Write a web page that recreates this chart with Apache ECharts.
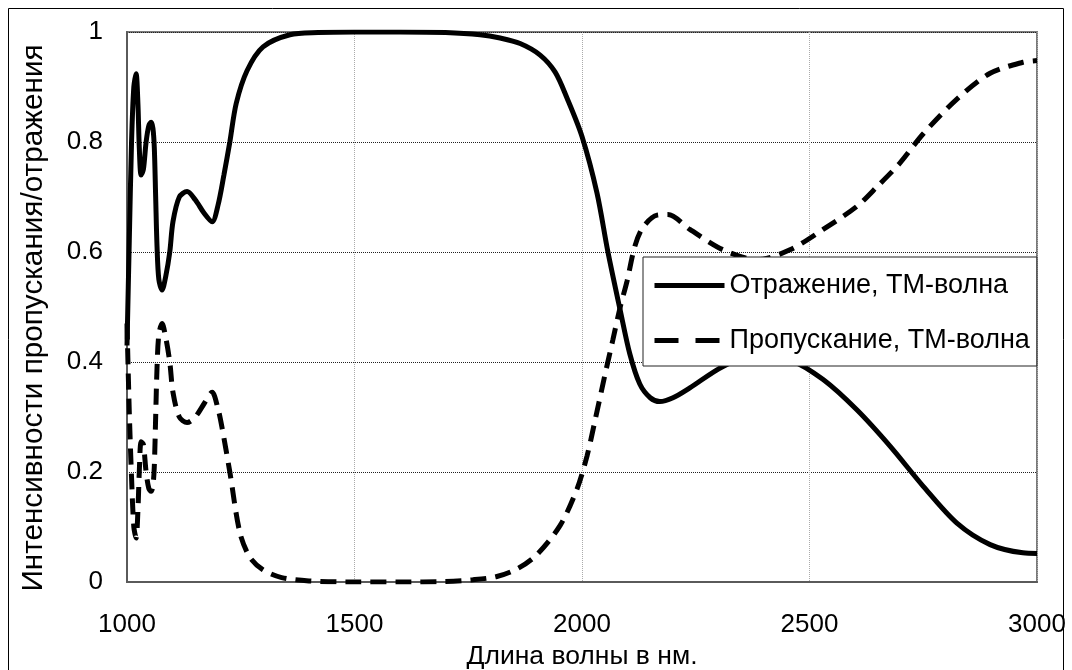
<!DOCTYPE html>
<html>
<head>
<meta charset="utf-8">
<script src="https://cdn.jsdelivr.net/npm/echarts@6/dist/echarts.min.js"></script>
<style>
html,body{margin:0;padding:0;background:#fff;}
#chart{width:1072px;height:670px;}
</style>
</head>
<body>
<div id="chart"></div>
<script>
// ---- data ----
const reflName = 'Отражение, ТМ-волна';
const transName = 'Пропускание, ТМ-волна';

const reflX = [1000,1005,1010,1015,1020,1024,1027,1031,1036,1042,1048,1053,1057,1060,1063,1066,1070,1077,1085,1094,1101,1115,1132,1150,1170,1187,1200,1213,1226,1240,1264,1299,1358,1420,1500,1600,1700,1776,1820,1864,1908,1941,1967,2000,2033,2057,2084,2105,2127,2150,2171,2200,2237,2310,2385,2457,2530,2604,2677,2750,2824,2897,2969,3000];
const reflY = [0.43,0.62,0.80,0.90,0.924,0.87,0.79,0.74,0.75,0.80,0.83,0.836,0.825,0.79,0.70,0.61,0.55,0.531,0.555,0.60,0.655,0.70,0.71,0.695,0.67,0.655,0.685,0.74,0.80,0.87,0.93,0.973,0.995,0.999,1.0,1.0,0.999,0.995,0.989,0.979,0.958,0.927,0.88,0.81,0.707,0.60,0.494,0.415,0.36,0.335,0.328,0.335,0.353,0.392,0.413,0.404,0.368,0.313,0.247,0.174,0.107,0.068,0.053,0.052];

const transX = [1000,1005,1010,1015,1020,1024,1027,1031,1036,1042,1048,1053,1057,1060,1063,1066,1070,1077,1085,1094,1101,1115,1132,1150,1170,1187,1200,1209,1226,1248,1270,1299,1340,1400,1500,1600,1700,1760,1813,1860,1901,1952,1989,2011,2029,2050,2068,2084,2099,2116,2134,2165,2189,2237,2310,2385,2457,2530,2604,2650,2699,2750,2824,2897,2969,3000];
const transY = [0.47,0.31,0.19,0.10,0.08,0.13,0.20,0.255,0.25,0.20,0.17,0.165,0.175,0.21,0.30,0.39,0.45,0.47,0.445,0.40,0.345,0.30,0.29,0.30,0.325,0.345,0.315,0.28,0.20,0.09,0.045,0.022,0.008,0.002,0.0,0.0,0.001,0.004,0.01,0.025,0.05,0.103,0.169,0.229,0.295,0.375,0.441,0.50,0.547,0.61,0.645,0.667,0.668,0.641,0.604,0.586,0.604,0.641,0.683,0.72,0.762,0.815,0.878,0.925,0.945,0.948];

const xTickLabels = ['1000','1500','2000','2500','3000'];
const yTickLabels = ['0','0.2','0.4','0.6','0.8','1'];
const xTitle = 'Длина волны в нм.';
const yTitle = 'Интенсивности пропускания/отражения';

// ---- chart ----
const zip = (xs, ys) => xs.map((x, i) => [x, ys[i]]);
const FONT = "'Liberation Sans', Arial, sans-serif";

const chart = echarts.init(document.getElementById('chart'), null, {renderer: 'canvas'});
chart.setOption({
  animation: false,
  backgroundColor: '#fff',
  textStyle: {fontFamily: FONT, color: '#000'},
  grid: {left: 127, right: 35, top: 32, bottom: 88, show: true, borderColor: '#7a7a7a', borderWidth: 2, backgroundColor: 'transparent', containLabel: false, outerBoundsMode: 'none'},
  xAxis: {
    type: 'value', min: 1000, max: 3000, interval: 500,
    name: xTitle, nameLocation: 'middle', nameGap: 55,
    nameTextStyle: {fontSize: 26.5, fontFamily: FONT, color: '#000'},
    axisLine: {show: true, lineStyle: {color: '#5a5a5a', width: 2}},
    axisTick: {show: false},
    axisLabel: {fontSize: 26, fontFamily: FONT, color: '#000', margin: 30,
      formatter: v => xTickLabels[Math.round((v - 1000) / 500)]},
    splitLine: {show: true, lineStyle: {color: '#aaaaaa', type: 'dotted', width: 1}}
  },
  yAxis: {
    type: 'value', min: 0, max: 1, interval: 0.2,
    name: yTitle, nameLocation: 'middle', nameGap: 78, nameRotate: 90,
    nameTextStyle: {fontSize: 29.7, fontFamily: FONT, color: '#000', padding: [0, 22, 0, 0]},
    axisLine: {show: true, lineStyle: {color: '#5a5a5a', width: 2}},
    axisTick: {show: false},
    axisLabel: {fontSize: 26, fontFamily: FONT, color: '#000', margin: 24,
      formatter: v => yTickLabels[Math.round(v / 0.2)]},
    splitLine: {show: true, lineStyle: {color: '#222', type: 'dotted', width: 1}}
  },
  legend: {
    orient: 'vertical', left: 643, top: 257,
    padding: [15, 7, 12, 9],
    itemWidth: 70, itemHeight: 20, itemGap: 28,
    backgroundColor: '#fff', borderColor: '#222', borderWidth: 1, borderRadius: 0,
    itemStyle: {opacity: 0},
    textStyle: {fontSize: 27, fontFamily: FONT, color: '#000'},
    data: [
      {name: reflName, lineStyle: {width: 5, color: '#000'}},
      {name: transName, lineStyle: {width: 5, color: '#000', type: [24, 17]}}
    ]
  },
  series: [
    {
      name: reflName, type: 'line', data: zip(reflX, reflY), symbol: 'none', smooth: 0.3,
      lineStyle: {color: '#000', width: 5}, itemStyle: {color: '#000'}, z: 3
    },
    {
      name: transName, type: 'line', data: zip(transX, transY), symbol: 'none', smooth: 0.3,
      lineStyle: {color: '#000', width: 5, type: [16, 9]}, itemStyle: {color: '#000'}, z: 2
    }
  ],
  graphic: [
    {type: 'rect', shape: {x: 8.5, y: 8.5, width: 1055, height: 700}, style: {fill: 'none', stroke: '#000', lineWidth: 1}, silent: true, z: 100}
  ]
});
</script>
</body>
</html>
